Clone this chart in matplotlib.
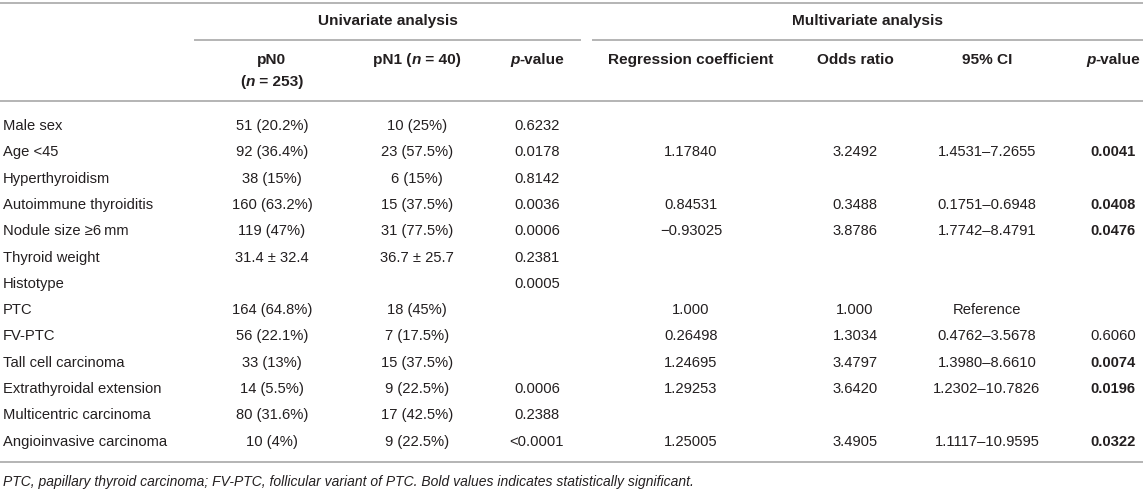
import matplotlib
matplotlib.use("Agg")
import matplotlib.pyplot as plt

# ---- table content ----
row_labels = ["Male sex", "Age <45", "Hyperthyroidism", "Autoimmune thyroiditis",
              "Nodule size \u22656\u2009mm", "Thyroid weight", "Histotype", "PTC", "FV-PTC",
              "Tall cell carcinoma", "Extrathyroidal extension", "Multicentric carcinoma",
              "Angioinvasive carcinoma"]
pn0 = ["51 (20.2%)", "92 (36.4%)", "38 (15%)", "160 (63.2%)", "119 (47%)", "31.4 \u00b1 32.4",
       "", "164 (64.8%)", "56 (22.1%)", "33 (13%)", "14 (5.5%)", "80 (31.6%)", "10 (4%)"]
pn1 = ["10 (25%)", "23 (57.5%)", "6 (15%)", "15 (37.5%)", "31 (77.5%)", "36.7 \u00b1 25.7",
       "", "18 (45%)", "7 (17.5%)", "15 (37.5%)", "9 (22.5%)", "17 (42.5%)", "9 (22.5%)"]
uni_p = ["0.6232", "0.0178", "0.8142", "0.0036", "0.0006", "0.2381", "0.0005",
         "", "", "", "0.0006", "0.2388", "<0.0001"]
reg_coef = ["", "1.17840", "", "0.84531", "\u22120.93025", "", "", "1.000", "0.26498",
            "1.24695", "1.29253", "", "1.25005"]
odds = ["", "3.2492", "", "0.3488", "3.8786", "", "", "1.000", "1.3034",
        "3.4797", "3.6420", "", "3.4905"]
ci95 = ["", "1.4531\u20137.2655", "", "0.1751\u20130.6948", "1.7742\u20138.4791", "", "",
        "Reference", "0.4762\u20133.5678", "1.3980\u20138.6610", "1.2302\u201310.7826", "",
        "1.1117\u201310.9595"]
multi_p = ["", "0.0041", "", "0.0408", "0.0476", "", "", "", "0.6060",
           "0.0074", "0.0196", "", "0.0322"]
footnote = ("PTC, papillary thyroid carcinoma; FV-PTC, follicular variant of PTC. "
            "Bold values indicates statistically significant.")

plt.rcParams['font.family'] = ['Liberation Sans', 'DejaVu Sans']
TXT = '#231f20'
LINE = '#b4b4b4'
FS = 10.6       # body
HFS = 11.1      # bold headers

W, H = 1143, 490
fig = plt.figure(figsize=(W / 100, H / 100), dpi=100)
ax = fig.add_axes([0, 0, 1, 1])
ax.set_xlim(0, W)
ax.set_ylim(H, 0)
ax.axis('off')
renderer = fig.canvas.get_renderer()


def rich(x, y, parts, size=HFS):
    """draw pieces of differently styled text, centred as one string at x"""
    items = []
    for s, weight, style in parts:
        t = ax.text(0, y, s, fontsize=size, fontweight=weight, fontstyle=style,
                    va='center', ha='left', color=TXT)
        items.append((t, t.get_window_extent(renderer=renderer).width))
    total = sum(w for _, w in items)
    pos = x - total / 2
    for t, w in items:
        t.set_x(pos)
        pos += w


# column centres
cx = [272, 417, 537, 691, 855, 987, 1113]

# rules
ax.plot([0, W], [3, 3], color=LINE, lw=1.4)
ax.plot([195, 580], [40, 40], color=LINE, lw=1.4)
ax.plot([593, W], [40, 40], color=LINE, lw=1.4)
ax.plot([0, W], [101, 101], color=LINE, lw=1.4)
ax.plot([0, W], [462, 462], color=LINE, lw=1.4)

# group headers
ax.text(388, 21, "Univariate analysis", fontsize=HFS, fontweight='bold',
        ha='center', va='center', color=TXT)
ax.text(868, 21, "Multivariate analysis", fontsize=HFS, fontweight='bold',
        ha='center', va='center', color=TXT)

# column headers
B, N, I = 'bold', 'normal', 'italic'
rich(cx[0], 60, [("pN0", B, N)])
rich(cx[0], 82, [("(", B, N), ("n", B, I), (" = 253)", B, N)])
rich(cx[1], 60, [("pN1 (", B, N), ("n", B, I), (" = 40)", B, N)])
rich(cx[2], 60, [("p", B, I), ("-value", B, N)])
rich(cx[3], 60, [("Regression coefficient", B, N)])
rich(cx[4], 60, [("Odds ratio", B, N)])
rich(cx[5], 60, [("95% CI", B, N)])
rich(cx[6], 60, [("p", B, I), ("-value", B, N)])

# body
y0, dy = 126, 26.3
cols = [pn0, pn1, uni_p, reg_coef, odds, ci95]
for i, lab in enumerate(row_labels):
    y = y0 + i * dy
    ax.text(3, y, lab, fontsize=FS, ha='left', va='center', color=TXT)
    for c, vals in enumerate(cols):
        if vals[i]:
            ax.text(cx[c], y, vals[i], fontsize=FS, ha='center', va='center', color=TXT)
    if multi_p[i]:
        sig = float(multi_p[i]) < 0.05
        ax.text(cx[6], y, multi_p[i], fontsize=FS, ha='center', va='center', color=TXT,
                fontweight='bold' if sig else 'normal')

ax.text(3, 482, footnote, fontsize=10, fontstyle='italic', ha='left', va='center',
        color=TXT)

fig.savefig("out.png", dpi=100)
